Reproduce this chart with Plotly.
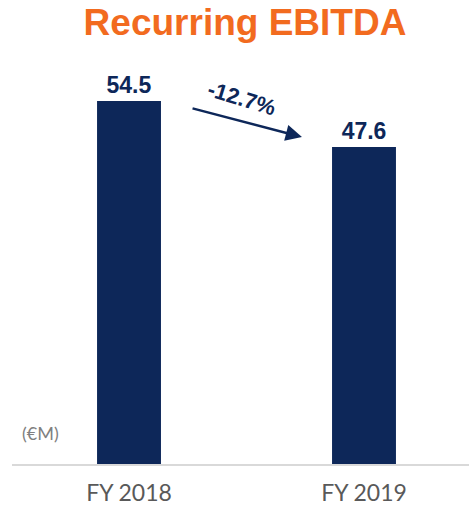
import plotly.graph_objects as go

categories = ["FY 2018", "FY 2019"]
values = [54.5, 47.6]
value_labels = ["54.5", "47.6"]
change_label = "-12.7%"
title_text = "Recurring EBITDA"
unit_label = "(€M)"

NAVY = "#0D2759"
ORANGE = "#F26B1F"

fig = go.Figure()
fig.add_trace(go.Bar(
    x=[0, 1], y=values, width=0.272,
    marker=dict(color=NAVY, line=dict(width=0)),
    text=value_labels, textposition="outside", cliponaxis=False,
    textfont=dict(family="Liberation Sans, Arial", size=23, color=NAVY),
    texttemplate="<b>%{text}</b>",
    hoverinfo="skip",
))

fig.add_annotation(
    x=0.736, y=49.1, ax=0.264, ay=53.45, xref="x", yref="y", axref="x", ayref="y",
    showarrow=True, arrowhead=2, arrowsize=1.3, arrowwidth=2.5, arrowcolor=NAVY, text="",
)
fig.add_annotation(
    x=0.481, y=54.9, xref="x", yref="y", text="<b>" + change_label + "</b>", showarrow=False,
    textangle=17, font=dict(family="Liberation Sans, Arial", size=22, color=NAVY),
)
fig.add_annotation(
    x=(40 - 12) / 457, y=(464 - 433) / 404, xref="paper", yref="paper", text=unit_label,
    showarrow=False, xanchor="center", yanchor="middle",
    font=dict(family="Lato", size=18, color="#808080"),
)

fig.update_layout(
    width=469, height=506,
    margin=dict(l=12, r=0, t=60, b=42, autoexpand=False),
    paper_bgcolor="white", plot_bgcolor="white",
    showlegend=False,
    title=dict(text="<b>" + title_text + "</b>", x=245 / 469, xanchor="center", y=1 - 22 / 506, yanchor="middle",
               font=dict(family="Liberation Sans, Arial", size=37, color=ORANGE)),
    xaxis=dict(
        tickmode="array", tickvals=[0, 1], ticktext=categories,
        range=[-0.4979, 1.4468], showgrid=False, zeroline=False,
        showline=True, linecolor="#D9D9D9", linewidth=1.5,
        ticks="", ticklabelstandoff=8, automargin=False,
        tickfont=dict(family="Lato", size=23, color="#595959"),
    ),
    yaxis=dict(range=[0, 60.66], visible=False, showgrid=False, zeroline=False, automargin=False),
)

fig.write_html("out.html", config={"displayModeBar": False},
               post_script="document.body.style.margin='0';document.body.style.overflow='hidden';")
